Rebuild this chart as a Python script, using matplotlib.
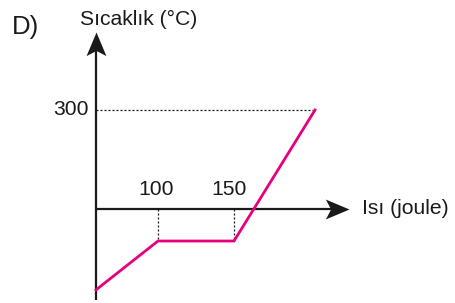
import matplotlib
matplotlib.use("Agg")
import matplotlib.pyplot as plt
from matplotlib.path import Path
import numpy as np

# schematic heating curve (not to scale on the heat axis)
heat = [0, 100, 150, 250]          # joule
temp = [-245, -97, -97, 300]        # degC
heat_ticks = [100, 150]
temp_ticks = [300]
plateau = -97

pink = "#e6007e"
ink = "#1a1a1a"
plt.rcParams["font.family"] = ["Liberation Sans", "DejaVu Sans"]


def forward(h):
    h = np.asarray(h, dtype=float)
    return np.where(h <= 100, 0.62 * h,
                    np.where(h <= 150, 62 + 1.52 * (h - 100), 138 + 0.81 * (h - 150)))


def inverse(v):
    v = np.asarray(v, dtype=float)
    return np.where(v <= 62, v / 0.62,
                    np.where(v <= 138, 100 + (v - 62) / 1.52, 150 + (v - 138) / 0.81))


# stealth arrowheads, tip at the marker origin
head_right = Path([(0, 0), (-1, 0.42), (-0.78, 0), (-1, -0.42), (0, 0)],
                  [Path.MOVETO, Path.LINETO, Path.LINETO, Path.LINETO, Path.CLOSEPOLY])
head_up = Path([(0, 0), (0.42, -1), (0, -0.78), (-0.42, -1), (0, 0)],
               [Path.MOVETO, Path.LINETO, Path.LINETO, Path.LINETO, Path.CLOSEPOLY])

fig = plt.figure(figsize=(4.55, 3.03), dpi=100)
ax = fig.add_axes([0, 0, 1, 1])
ax.set_xscale("function", functions=(forward, inverse))
ax.set_xlim(float(inverse(-96)), float(inverse(359)))
px = 300 / 99
ax.set_ylim(-94 * px, 209 * px)
ax.axis("off")

# axes with arrows
ax.plot([0, 0], [-275, 510], color=ink, lw=1.6, solid_capstyle="butt")
ax.plot([0], [535], marker=head_up, ms=34, color=ink, mew=0)
ax.plot([0, 275], [0, 0], color=ink, lw=1.6, solid_capstyle="butt")
ax.plot([292], [0], marker=head_right, ms=34, color=ink, mew=0)

# guide lines
dot = dict(color=ink, lw=0.9, ls=(0, (1.6, 1.6)))
for h in heat_ticks:
    ax.plot([h, h], [0, plateau], **dot)
ax.plot([0, heat[-1]], [temp[-1], temp[-1]], **dot)

ax.plot(heat, temp, color=pink, lw=2, solid_joinstyle="miter", zorder=3)

# labels
fs = 15.2
for h in heat_ticks:
    ax.text(h - 3, 60, str(h), fontsize=fs, ha="center", va="center", color=ink)
for t in temp_ticks:
    ax.text(-12, t + 2, str(t), fontsize=fs, ha="right", va="center", color=ink)
ax.text(0.796, 0.312, "Isı (joule)", transform=ax.transAxes, fontsize=fs,
        ha="left", va="center", color=ink)
ax.text(0.176, 0.935, "Sıcaklık (°C)", transform=ax.transAxes, fontsize=fs,
        ha="left", va="center", color=ink)
ax.text(0.026, 0.91, "D)", transform=ax.transAxes, fontsize=18.5,
        ha="left", va="center", color=ink)

fig.savefig("out.png", dpi=100)
